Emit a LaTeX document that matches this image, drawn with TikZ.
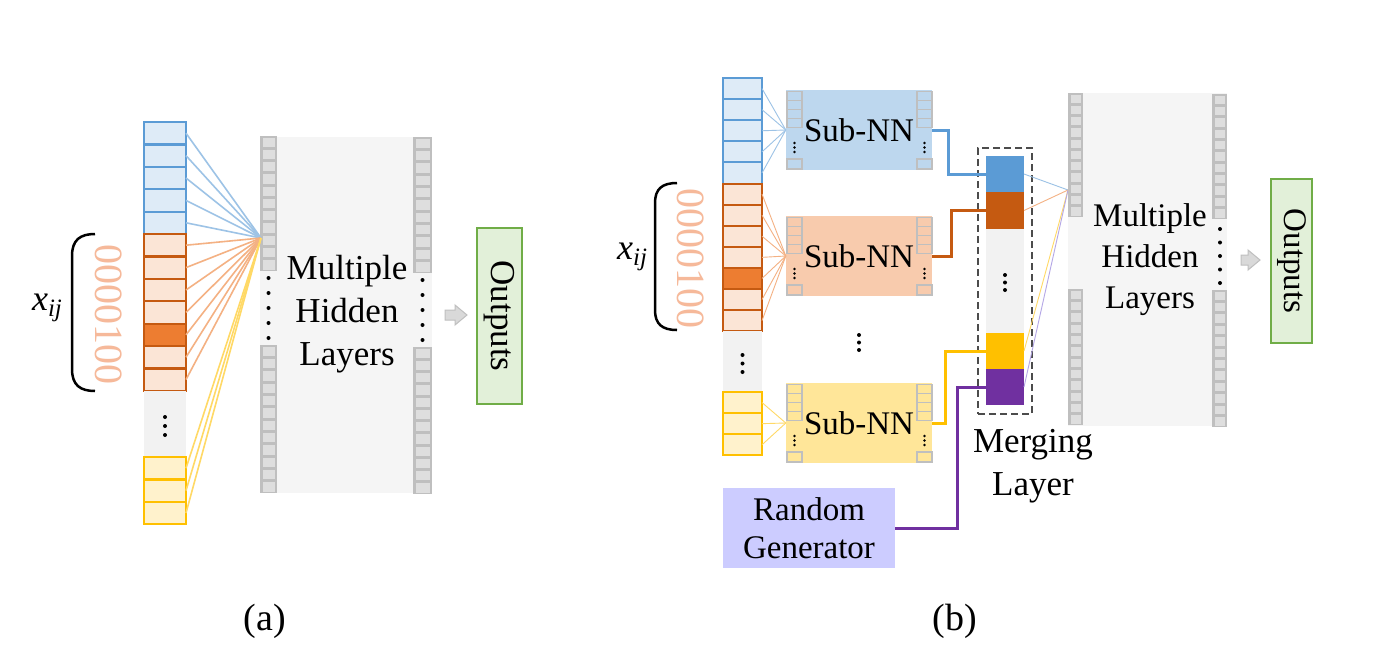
\documentclass[tikz,border=0pt]{standalone}
\usepackage{fontspec}
\setmainfont{LiberationSerif}[Extension=.ttf, UprightFont=*-Regular, ItalicFont=*-Italic, BoldFont=*-Bold, BoldItalicFont=*-BoldItalic]
\definecolor{bluS}{HTML}{5B9BD5}
\definecolor{bluF}{HTML}{DEEBF7}
\definecolor{bluL}{HTML}{9DC3E6}
\definecolor{bluB}{HTML}{BDD7EE}
\definecolor{oraS}{HTML}{C55A11}
\definecolor{oraF}{HTML}{FBE5D6}
\definecolor{oraD}{HTML}{ED7D31}
\definecolor{oraL}{HTML}{F4B183}
\definecolor{oraB}{HTML}{F8CBAD}
\definecolor{yelS}{HTML}{FFC000}
\definecolor{yelF}{HTML}{FFF2CC}
\definecolor{yelL}{HTML}{FFD966}
\definecolor{yelB}{HTML}{FFE699}
\definecolor{purS}{HTML}{7030A0}
\definecolor{purL}{HTML}{B4A7E6}
\definecolor{grnS}{HTML}{70AD47}
\definecolor{grnF}{HTML}{E2F0D9}
\definecolor{rndF}{HTML}{CCCCFF}
\definecolor{hidD}{HTML}{BFBFBF}
\definecolor{hidL}{HTML}{DEDEDE}
\definecolor{bgL}{HTML}{F5F5F5}
\definecolor{gapF}{HTML}{F2F2F2}
\definecolor{digC}{HTML}{F6B99A}
\definecolor{arrF}{HTML}{D9D9D9}
\definecolor{arrD}{HTML}{BFBFBF}

\newcommand\hidcol[5]{%
  \fill[hidD] (#1,#3) rectangle (#2,#4);
  \pgfmathsetmacro\hidh{(#4-#3)/#5}
  \foreach \k in {1,...,#5}{%
    \fill[hidL] ({#1+2.5},{#3+(\k-1)*\hidh+1.5}) rectangle ({#2-2.5},{#3+\k*\hidh-1.5});
  }%
}
\newcommand\dotsrow[4]{%
  \foreach \k in {1,...,#4}{\fill ({#1},{#2+(\k-1)*#3}) circle (2pt);}%
}
\newcommand\subnn[3]{%
  \node[subbox, fill=#3] (#1) at (859,#2) {Sub-NN};
  \foreach \xa in {787,917}{%
    \foreach \k in {0,...,3}{%
      \draw[smallcell] (\xa,{#2-40+1.5+9*\k}) rectangle ({\xa+15},{#2-40+10.5+9*\k});
    }
    \draw[smallcell] (\xa,{#2+29}) rectangle ({\xa+15},{#2+39});
    \foreach \k in {0,1,2}{\fill ({\xa+7.5},{#2+13+4.5*\k}) circle (1.3pt);}
  }%
}

\tikzset{
  cellA/.style={minimum width=42pt, minimum height=22.4pt, inner sep=0pt, outer sep=0pt, line width=2.2pt},
  cellB/.style={minimum width=39pt, minimum height=21.1pt, inner sep=0pt, outer sep=0pt, line width=2pt},
  fanA/.style={line width=1.6pt},
  fanB/.style={line width=0.9pt},
  subbox/.style={minimum width=146pt, minimum height=80pt, inner sep=0pt, font=\fontsize{33}{40}\selectfont},
  smallcell/.style={draw=hidD, line width=1.3pt},
  mcell/.style={minimum width=38pt, inner sep=0pt, outer sep=0pt},
  elbow/.style={line width=3pt},
  hidtext/.style={align=center, font=\fontsize{35}{43}\selectfont},
  outbox/.style={draw=grnS, fill=grnF, line width=2pt, rotate=-90, inner sep=0pt},
  arrowshape/.style={fill=arrF, draw=arrD, line width=1pt},
  digits/.style={rotate=-90, text=digC, inner sep=0pt, font=\fontsize{40}{40}\selectfont},
  xlab/.style={font=\fontsize{36}{36}\selectfont\itshape, inner sep=0pt},
}

\begin{document}
\begin{tikzpicture}[x=1pt, y=-1pt]
\useasboundingbox (0,0) rectangle (1398,670);
\fill[white] (0,0) rectangle (1398,670);

% ================= (a) =================
\fill[bgL] (260,137) rectangle (432,493);
\hidcol{260}{277}{136}{271}{11}
\hidcol{260}{277}{345}{493}{12}
\hidcol{413}{432}{137}{273}{11}
\hidcol{413}{432}{347}{494}{12}
\dotsrow{268.5}{278}{15}{5}
\dotsrow{422.5}{280}{15}{5}

\coordinate (aconv) at (261,238);
\foreach \i in {1,...,5}{\node[cellA, draw=bluS, fill=bluF] (ab\i) at (165,{122+(\i-0.5)*22.4}) {};}
\foreach \i in {1,...,7}{\node[cellA, draw=oraS, fill=oraF] (ao\i) at (165,{234+(\i-0.5)*22.4}) {};}
\node[cellA, draw=oraS, fill=oraD] at (ao5) {};
\node[minimum width=42pt, minimum height=66pt, inner sep=0pt, fill=gapF] (agap) at (165,424) {};
\dotsrow{165}{417}{9}{3}
\foreach \i in {1,...,3}{\node[cellA, draw=yelS, fill=yelF] (ay\i) at (165,{457+(\i-0.5)*22.4}) {};}
\foreach \i in {1,...,5}{\draw[fanA, bluL] (ab\i.east) -- (aconv);}
\foreach \i in {1,...,7}{\draw[fanA, oraL] (ao\i.east) -- (aconv);}
\foreach \i in {1,...,3}{\draw[fanA, yelL] (ay\i.east) -- (aconv);}

\draw[line width=2.5pt] (95,234) .. controls (80,234) and (72,240) .. (72,256) -- (72,369) .. controls (72,385) and (80,391) .. (95,391);
\node[xlab] (xa) at (47,308) {x\raisebox{-0.4ex}{\fontsize{25}{25}\selectfont ij}};
\node[digits] (da) at (109,314) {0000100};

\node[hidtext] (hida) at (347,314) {Multiple\\Hidden\\Layers};
\draw[arrowshape] (445,310) -- (455,310) -- (455,305) -- (467,315) -- (455,325) -- (455,320) -- (445,320) -- cycle;
\node[outbox, minimum width=176pt, minimum height=45pt, font=\fontsize{35}{35}\selectfont] (outa) at (499.5,316) {Outputs};

\node[font=\fontsize{38}{38}\selectfont] (laba) at (265,621) {(a)};

% ================= (b) =================
\foreach \i in {1,...,5}{\node[cellB, draw=bluS, fill=bluF] (bb\i) at (742.5,{78+(\i-0.5)*21.1}) {};}
\foreach \i in {1,...,7}{\node[cellB, draw=oraS, fill=oraF] (bo\i) at (742.5,{183.5+(\i-0.5)*21.1}) {};}
\node[cellB, draw=oraS, fill=oraD] at (bo5) {};
\node[minimum width=39pt, minimum height=61pt, inner sep=0pt, fill=gapF] (bgap) at (742.5,361.5) {};
\dotsrow{742.5}{355}{8.5}{3}
\foreach \i in {1,...,3}{\node[cellB, draw=yelS, fill=yelF] (by\i) at (742.5,{392+(\i-0.5)*21.1}) {};}

\draw[line width=2.5pt] (677,183) .. controls (662,183) and (655,189) .. (655,203) -- (655,310) .. controls (655,324) and (662,330) .. (677,330);
\node[xlab] (xb) at (632,257) {x\raisebox{-0.4ex}{\fontsize{25}{25}\selectfont ij}};
\node[digits] (db) at (691,258) {0000100};

\subnn{sbB}{130}{bluB}
\subnn{sbO}{256}{oraB}
\subnn{sbY}{423}{yelB}
\dotsrow{859}{335}{7.5}{3}

\foreach \i in {1,...,5}{\draw[fanB, bluL] (bb\i.east) -- (sbB.west);}
\foreach \i in {1,...,7}{\draw[fanB, oraL] (bo\i.east) -- (sbO.west);}
\foreach \i in {1,...,3}{\draw[fanB, yelL] (by\i.east) -- (sbY.west);}

\node[minimum width=172pt, minimum height=80pt, fill=rndF, align=center, inner sep=0pt, font=\fontsize{33}{38}\selectfont] (rg) at (809,528) {Random\\Generator};

% merging layer
\node[draw=black!70, dash pattern=on 7pt off 4pt, line width=1.5pt, minimum width=54pt, minimum height=266pt, inner sep=0pt] (mbox) at (1005,281) {};
\node[mcell, minimum height=36pt, fill=bluS] (mB) at (1005,174) {};
\node[mcell, minimum height=37pt, fill=oraS] (mO) at (1005,210.5) {};
\node[mcell, minimum height=104pt, fill=gapF] (mG) at (1005,281) {};
\dotsrow{1005}{275}{7.5}{3}
\node[mcell, minimum height=36pt, fill=yelS] (mY) at (1005,351) {};
\node[mcell, minimum height=36pt, fill=purS] (mP) at (1005,387) {};
\node[hidtext] (mlab) at (1033,466) {Merging\\Layer};

\draw[elbow, bluS] (sbB.east) -- ++(16,0) |- (mB.west);
\draw[elbow, oraS] (sbO.east) -- ++(19,0) |- (mO.west);
\draw[elbow, yelS] (sbY.east) -- ++(13,0) |- (mY.west);
\draw[elbow, purS] (rg.east) -- ++(62,0) |- (mP.west);

% hidden layers (b)
\fill[bgL] (1068,93) rectangle (1227,426);
\hidcol{1068}{1083}{93}{217}{11}
\hidcol{1068}{1083}{289}{425}{12}
\hidcol{1212}{1227}{94}{219}{11}
\hidcol{1212}{1227}{290}{427}{12}
\dotsrow{1220}{229}{13.5}{5}
\coordinate (bconv) at (1068,190);
\draw[fanB, bluL] (mB.east) -- (bconv);
\draw[fanB, oraL] (mO.east) -- (bconv);
\draw[fanB, yelL] (mY.east) -- (bconv);
\draw[fanB, purL] (mP.east) -- (bconv);

\node[hidtext, font=\fontsize{33}{41}\selectfont] (hidb) at (1150,260) {Multiple\\Hidden\\Layers};
\draw[arrowshape] (1241,255) -- (1248,255) -- (1248,250) -- (1260,260) -- (1248,270) -- (1248,265) -- (1241,265) -- cycle;
\node[outbox, minimum width=164pt, minimum height=41pt, font=\fontsize{33}{33}\selectfont] (outb) at (1291.5,261) {Outputs};

\node[font=\fontsize{38}{38}\selectfont] (labb) at (955,621) {(b)};
\end{tikzpicture}
\end{document}
